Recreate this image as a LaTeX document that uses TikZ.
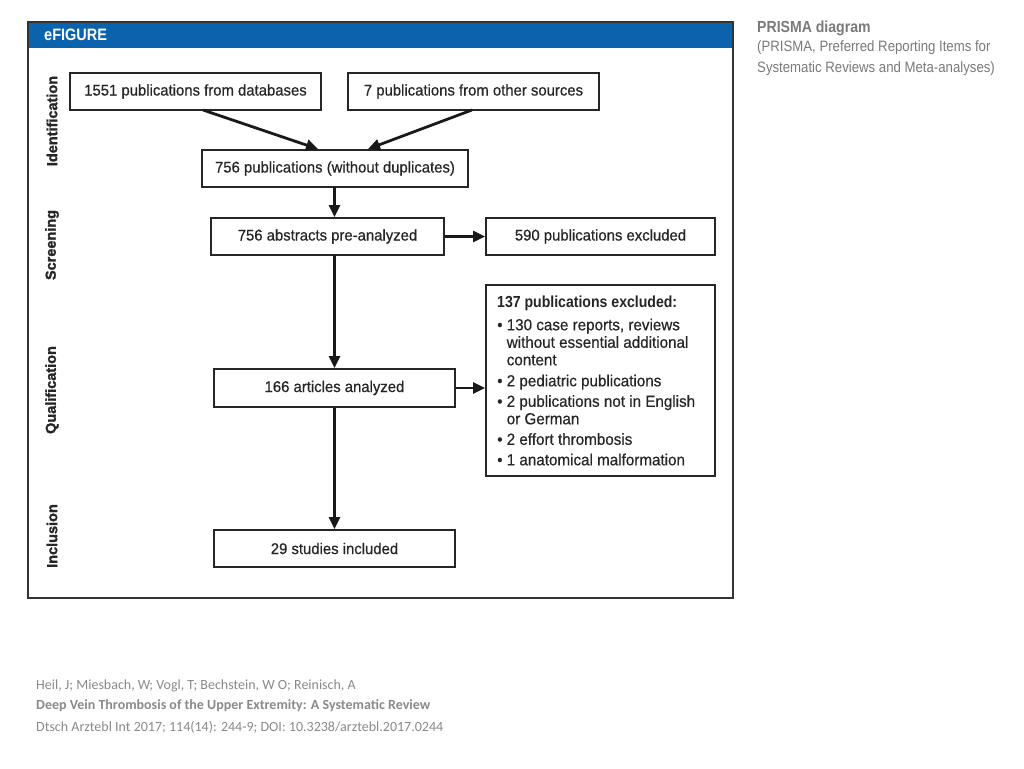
\documentclass[tikz,border=0pt]{standalone}
\usepackage{fontspec}
\setmainfont{Liberation Sans}
\newfontfamily\cond[FakeStretch=0.96,FakeBold=0.6]{Liberation Sans}
\newfontfamily\condc[FakeStretch=0.95,FakeBold=0.5]{Liberation Sans}
\newfontfamily\condb[FakeStretch=0.88]{Liberation Sans}
\newfontfamily\sidef[FakeStretch=0.88]{Liberation Sans}
\newfontfamily\heavy[FakeBold=1.6]{Liberation Sans}
\newfontfamily\foot{Carlito}
\usetikzlibrary{arrows.meta}
\definecolor{hdrblue}{HTML}{0B63AE}
\definecolor{framegray}{HTML}{333333}
\definecolor{sidegray}{HTML}{7A7A7A}
\definecolor{footgray}{HTML}{8A8A8A}
\begin{document}
\begin{tikzpicture}[x=1pt,y=-1pt,
  box/.style={draw=black!85, line width=1.8pt, fill=white, inner sep=0pt,
    font=\cond\fontsize{15.5}{18}\selectfont, text=black!85},
  arr/.style={line width=2.8pt, draw=black!90, -{Triangle[length=12pt,width=11pt]}},
  phase/.style={rotate=90, font=\heavy\bfseries\fontsize{14.5}{17}\selectfont, text=black!85},
  sidetxt/.style={anchor=west, font=\sidef\fontsize{15}{18}\selectfont, text=sidegray, inner sep=0pt},
  foottxt/.style={anchor=west, font=\foot\fontsize{14}{16}\selectfont, text=footgray, inner sep=0pt}]
\useasboundingbox (0,0) rectangle (1024,768);
\fill[white] (0,0) rectangle (1024,768);
% frame and header
\fill[hdrblue] (28,22) rectangle (733,48);
\draw[framegray, line width=1.4pt] (28,22) rectangle (733,598);
\node[anchor=west, text=white, inner sep=0pt, font=\condb\bfseries\fontsize{16.5}{18}\selectfont] (title) at (44,35) {eFIGURE};
% phase labels
\node[phase] (pid) at (52,121) {Identification};
\node[phase] (psc) at (52,245) {Screening};
\node[phase] (pqu) at (52,390) {Qualification};
\node[phase] (pin) at (52,536) {Inclusion};
% boxes
\node[box, minimum width=251pt, minimum height=37pt] (db) at (195.5,91.5) {1551 publications from databases};
\node[box, minimum width=251pt, minimum height=37pt] (other) at (473.5,91.5) {7 publications from other sources};
\node[box, minimum width=266pt, minimum height=37pt] (dup) at (335,168.5) {756 publications (without duplicates)};
\node[box, minimum width=233pt, minimum height=37pt] (abs) at (327.5,236.5) {756 abstracts pre-analyzed};
\node[box, minimum width=229pt, minimum height=37pt] (exc1) at (600.5,236.5) {590 publications excluded};
\node[box, minimum width=241pt, minimum height=38pt] (art) at (334.5,388) {166 articles analyzed};
\node[box, minimum width=229pt, minimum height=191pt] (exc2) at (600.5,380.5) {};
\node[anchor=north west, inner sep=0pt, align=left, text=black!85,
  font=\condc\fontsize{16}{17.5}\selectfont] (exc2txt) at (497,296)
  {{\condb\bfseries 137 publications excluded:}\\[5pt]
   \textbullet\ 130 case reports, reviews\\
   \hphantom{\textbullet\ }without essential additional\\
   \hphantom{\textbullet\ }content\\[3.5pt]
   \textbullet\ 2 pediatric publications\\[3pt]
   \textbullet\ 2 publications not in English\\
   \hphantom{\textbullet\ }or German\\[3pt]
   \textbullet\ 2 effort thrombosis\\[3pt]
   \textbullet\ 1 anatomical malformation};
\node[box, minimum width=241pt, minimum height=37pt] (inc) at (334.5,548.5) {29 studies included};
% connectors
\coordinate (dbs) at (203,110);
\coordinate (ots) at (472,110);
\coordinate (dupL) at (318,149);
\coordinate (dupR) at (368,149);
\coordinate (dupS) at (334.5,187);
\coordinate (absS) at (334.5,255);
\draw[arr] (dbs) -- (dupL);
\draw[arr] (ots) -- (dupR);
\draw[arr] (dupS) -- (dupS |- abs.north);
\draw[arr] (abs.east) -- (exc1.west);
\draw[arr] (absS) -- (absS |- art.north);
\draw[arr] (art.east) -- (art.east -| exc2.west);
\draw[arr] (art.south) -- (art.south |- inc.north);
% side text
\node[sidetxt, font=\condb\bfseries\fontsize{16}{18}\selectfont] (s1) at (757,28) {PRISMA diagram};
\node[sidetxt] (s2) at (757,48) {(PRISMA, Preferred Reporting Items for};
\node[sidetxt] (s3) at (757,69) {Systematic Reviews and Meta-analyses)};
% footer
\node[foottxt] (f1) at (36,686) {Heil, J; Miesbach, W; Vogl, T; Bechstein, W O; Reinisch, A};
\node[foottxt, font=\foot\bfseries\fontsize{14}{16}\selectfont] (f2) at (36,706) {Deep Vein Thrombosis of the Upper Extremity: A Systematic Review};
\node[foottxt] (f3) at (36,727) {Dtsch Arztebl Int 2017; 114(14): 244-9; DOI: 10.3238/arztebl.2017.0244};
\end{tikzpicture}
\end{document}
